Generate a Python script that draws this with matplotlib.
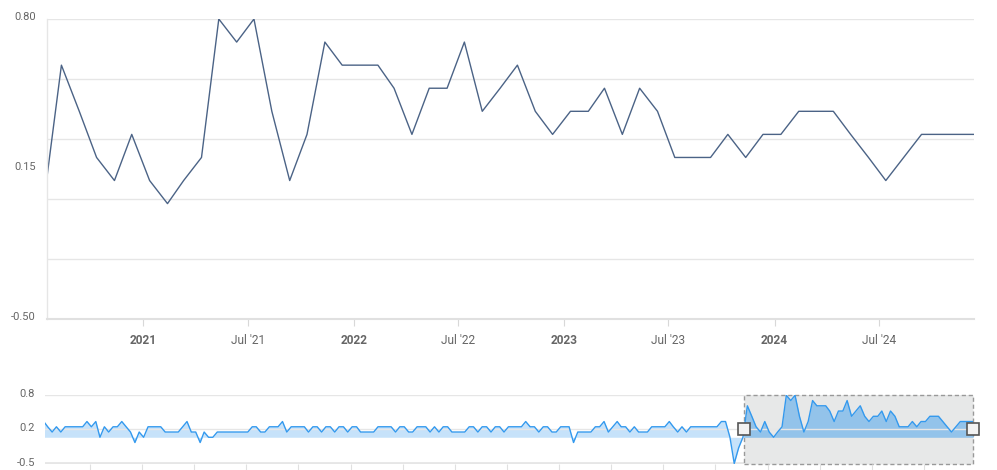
import numpy as np
import pandas as pd
import matplotlib
matplotlib.use('Agg')
import matplotlib.pyplot as plt
import matplotlib.dates as mdates
import matplotlib.transforms as mtransforms
from matplotlib.patches import Rectangle

plt.rcParams['font.family'] = ['Roboto', 'DejaVu Sans']

# monthly values, Feb 2007 .. Jul 2020 (only visible in the navigator)
hist_values = [
    0.3, 0.2, 0.1, 0.2, 0.1, 0.2, 0.2, 0.2, 0.2, 0.2,
    0.3, 0.2, 0.3, 0.0, 0.2, 0.1, 0.2, 0.2, 0.3, 0.2,
    0.1, -0.1, 0.1, 0.0, 0.2, 0.2, 0.2, 0.2, 0.1, 0.1,
    0.1, 0.1, 0.2, 0.3, 0.1, 0.1, -0.1, 0.1, 0.0, 0.0,
    0.1, 0.1, 0.1, 0.1, 0.1, 0.1, 0.1, 0.1, 0.2, 0.2,
    0.1, 0.1, 0.2, 0.2, 0.2, 0.3, 0.1, 0.2, 0.2, 0.2,
    0.2, 0.1, 0.2, 0.2, 0.1, 0.2, 0.2, 0.1, 0.2, 0.2,
    0.1, 0.2, 0.2, 0.1, 0.1, 0.1, 0.1, 0.2, 0.2, 0.2,
    0.2, 0.1, 0.2, 0.2, 0.1, 0.1, 0.2, 0.2, 0.2, 0.1,
    0.2, 0.1, 0.2, 0.2, 0.1, 0.1, 0.1, 0.1, 0.2, 0.2,
    0.1, 0.2, 0.2, 0.1, 0.2, 0.2, 0.1, 0.2, 0.2, 0.2,
    0.2, 0.3, 0.2, 0.2, 0.1, 0.2, 0.2, 0.1, 0.1, 0.2,
    0.2, 0.2, -0.1, 0.1, 0.1, 0.1, 0.1, 0.2, 0.2, 0.3,
    0.1, 0.2, 0.3, 0.2, 0.2, 0.1, 0.2, 0.1, 0.1, 0.1,
    0.2, 0.2, 0.2, 0.2, 0.3, 0.2, 0.1, 0.2, 0.1, 0.2,
    0.2, 0.2, 0.2, 0.2, 0.2, 0.2, 0.3, 0.3, 0.0, -0.5,
    -0.2, 0.0,
]

# monthly values, Aug 2020 .. Dec 2024 (main chart)
main_values = [
    0.6, 0.4, 0.2, 0.1, 0.3, 0.1, 0.0, 0.1, 0.2, 0.8,
    0.7, 0.8, 0.4, 0.1, 0.3, 0.7, 0.6, 0.6, 0.6, 0.5,
    0.3, 0.5, 0.5, 0.7, 0.4, 0.5, 0.6, 0.4, 0.3, 0.4,
    0.4, 0.5, 0.3, 0.5, 0.4, 0.2, 0.2, 0.2, 0.3, 0.2,
    0.3, 0.3, 0.4, 0.4, 0.4, 0.3, 0.2, 0.1, 0.2, 0.3,
    0.3, 0.3, 0.3,
]

values = np.array(hist_values + main_values)
dates = pd.date_range('2007-02-01', periods=len(values), freq='MS') + pd.Timedelta(days=11)

main_start = pd.Timestamp('2020-07-18')
main_end = dates[-1]
nav_start = pd.Timestamp('2007-02-21')

x_ticks = pd.to_datetime(['2021-01-01', '2021-07-01', '2022-01-01', '2022-07-01',
                          '2023-01-01', '2023-07-01', '2024-01-01', '2024-07-01'])
x_labels = ['2021', "Jul '21", '2022', "Jul '22", '2023', "Jul '23", '2024', "Jul '24"]

grid_color = '#e6e6e6'
text_color = '#666666'
line_color = '#4b6386'
nav_color = '#3399ee'

W, H = 997, 470
fig = plt.figure(figsize=(W / 100, H / 100), dpi=100)

# ---- main chart
ax = fig.add_axes([47 / W, 1 - 319 / H, 927 / W, 300 / H])
ax.plot(dates, values, color=line_color, lw=1.0)
ax.set_xlim(main_start, main_end)
ax.set_ylim(-0.5, 0.8)

for g in np.linspace(-0.5, 0.8, 6):
    ax.axhline(g, color=grid_color, lw=1, zorder=0)
ax.set_yticks([])
up = mtransforms.offset_copy(ax.get_yaxis_transform(), fig=fig, x=-11, y=2, units='dots')
for v, s in [(0.8, '0.80'), (0.15, '0.15'), (-0.5, '-0.50')]:
    ax.text(0, v, s, transform=up, ha='right', va='center', fontsize=8, color=text_color)

ax.set_xticks(x_ticks)
ax.set_xticklabels(x_labels)
for lab in ax.get_xticklabels():
    if "'" not in lab.get_text():
        lab.set_fontweight('bold')
ax.tick_params(axis='x', length=5, color='#d8d8d8', labelsize=8.6, labelcolor=text_color, pad=6)
for side in ['top', 'right']:
    ax.spines[side].set_visible(False)
ax.spines['bottom'].set_color('#e0e0e0')
ax.spines['bottom'].set_linewidth(1.5)
ax.spines['left'].set_color(grid_color)
ax.spines['left'].set_linewidth(1)

# ---- navigator
nav = fig.add_axes([45 / W, 1 - 463.5 / H, 928.3 / W, 68.2 / H])
nav.set_xlim(nav_start, main_end)
nav.set_ylim(-0.5, 0.8)
x0 = mdates.date2num(main_start)
nav.add_patch(Rectangle((x0, -0.5), mdates.date2num(main_end) - x0, 1.3,
                        facecolor='#e7e8e8', edgecolor='#999999', lw=1, ls=(0, (3, 2)),
                        zorder=1, clip_on=False))
nav.fill_between(dates, values, 0, color=nav_color, alpha=0.28, lw=0, zorder=2)
sel = dates >= pd.Timestamp('2020-07-01')
nav.fill_between(dates[sel], values[sel], 0, color=nav_color, alpha=0.25, lw=0, zorder=2)
nav.plot(dates, values, color=nav_color, lw=1.0, zorder=3)
nav.axhline(0.8, color=grid_color, lw=1, zorder=0)
nav.axhline(0.15, color=grid_color, lw=1, zorder=2.5)
nav.axhline(-0.5, color=grid_color, lw=2, zorder=0)
for hx in [main_start, main_end]:
    nav.plot([hx], [0.15], marker='s', ms=8, mfc='#f2f2f2', mec='#555555', mew=1.2,
             zorder=5, clip_on=False)

nav.set_yticks([])
up2 = mtransforms.offset_copy(nav.get_yaxis_transform(), fig=fig, x=-10, y=1, units='dots')
for v, s in [(0.8, '0.8'), (0.15, '0.2'), (-0.5, '-0.5')]:
    nav.text(0, v, s, transform=up2, ha='right', va='center', fontsize=8, color=text_color)

nav.set_xticks(pd.date_range('2008-01-01', '2024-01-01', freq='YS'))
nav.set_xticklabels([])
nav.tick_params(axis='x', length=5, color='#e0e0e0')
for side in ['top', 'right', 'left', 'bottom']:
    nav.spines[side].set_visible(False)

fig.savefig('out.png', dpi=100)
